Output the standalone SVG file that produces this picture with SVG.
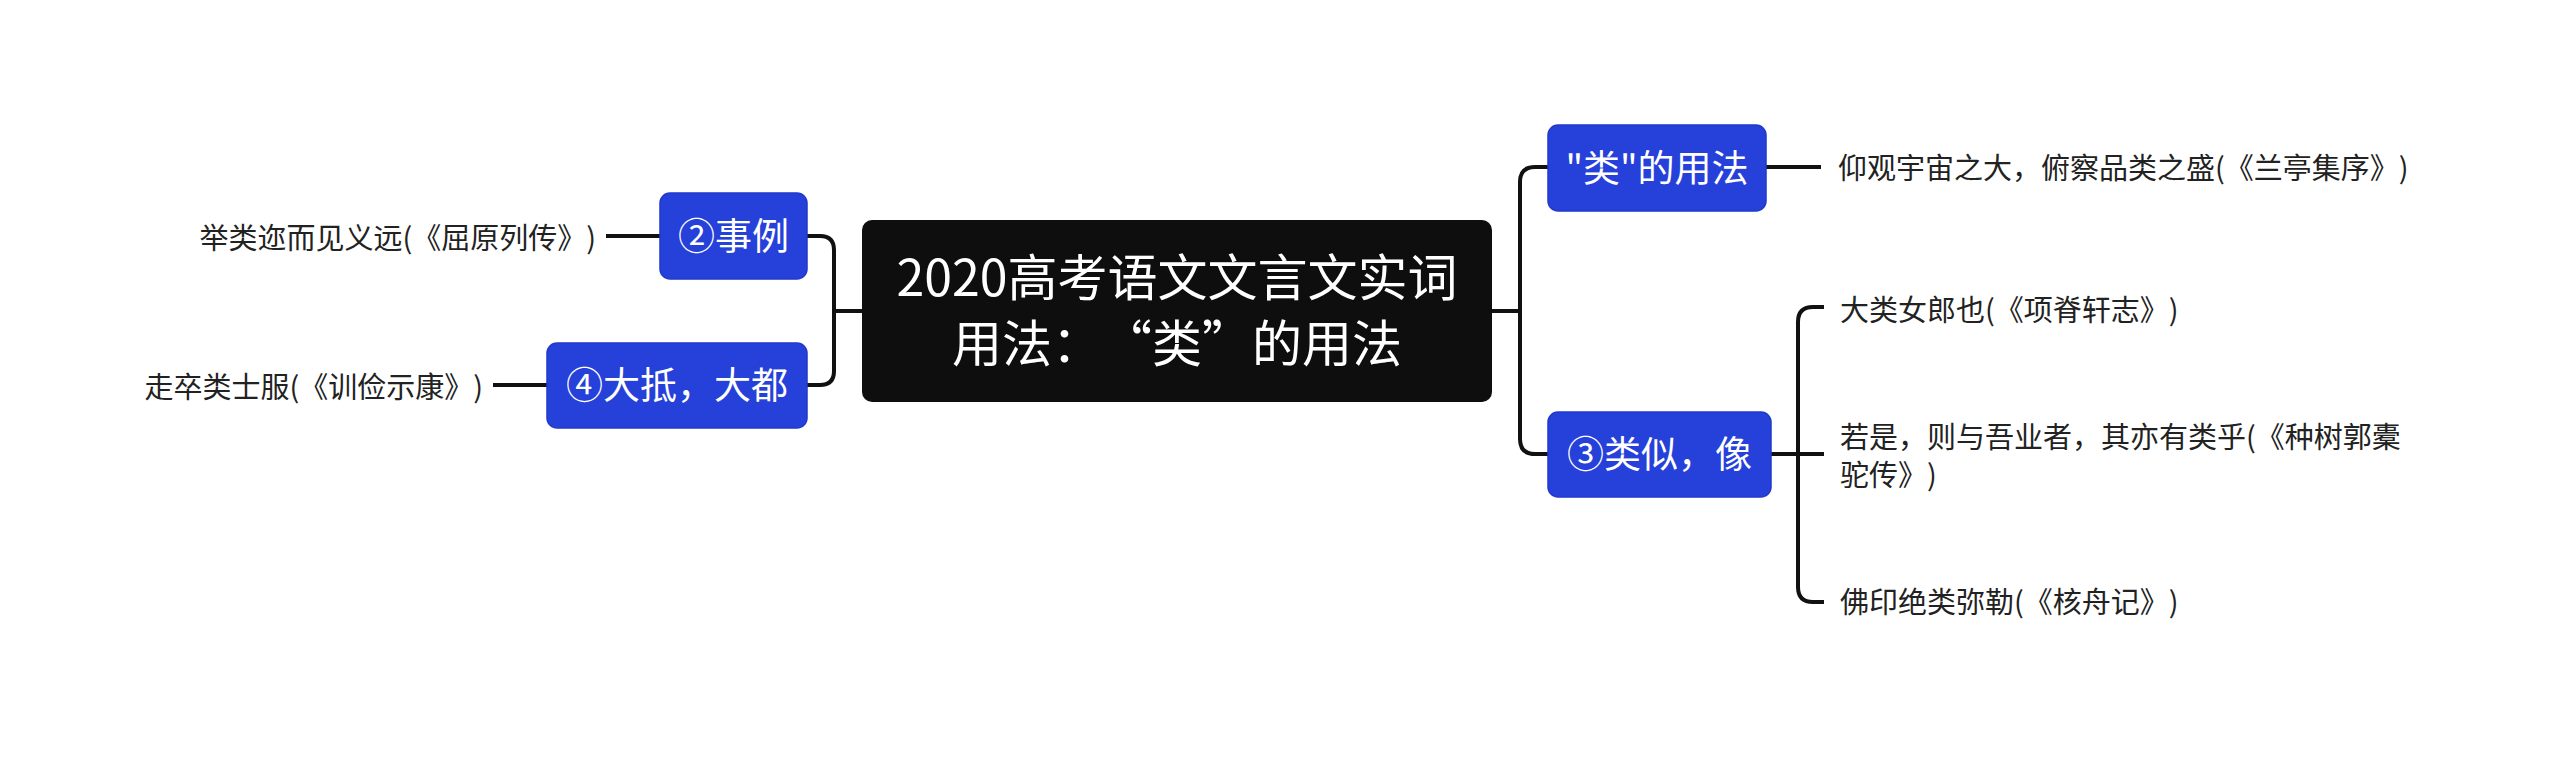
<svg xmlns="http://www.w3.org/2000/svg" width="2560" height="760" viewBox="0 0 2560 760">
<style>
.root{fill:#0e0e0e}
.blue{fill:#2640da;stroke:#2038cc;stroke-width:1.5}
.t{font-family:"Noto Sans CJK SC","Noto Sans",sans-serif;text-spacing-trim:space-all;font-feature-settings:"chws" 0,"halt" 0,"palt" 0}
.rt{font-size:50px;fill:#ffffff;text-anchor:middle}
.bt{font-size:37px;fill:#ffffff;text-anchor:middle}
.lt{font-size:29px;fill:#222222}
.c{fill:none;stroke:#111111;stroke-width:4;stroke-linecap:butt}
</style>
<rect width="2560" height="760" fill="#ffffff"/>
<g id="connectors">
<path class="c" d="M862,311 H834"/>
<path class="c" d="M807,236 H820 Q834,236 834,250 V371 Q834,385 820,385 H807"/>
<path class="c" d="M606,236 H660"/>
<path class="c" d="M493,385 H547"/>
<path class="c" d="M1492,311 H1520"/>
<path class="c" d="M1548,167 H1535 Q1520,167 1520,182 V439 Q1520,454 1535,454 H1548"/>
<path class="c" d="M1766,167 H1821"/>
<path class="c" d="M1771,454 H1824"/>
<path class="c" d="M1824,307 H1813 Q1798,307 1798,322 V587 Q1798,602 1813,602 H1824"/>
</g>
<g id="root">
<rect class="root" x="862" y="220" width="630" height="182" rx="10"/>
<text class="t rt" x="1177" y="296">2020高考语文文言文实词</text>
<text class="t rt" x="1177" y="362">用法：“类”的用法</text>
</g>
<g id="n2">
<rect class="blue" x="660" y="193" width="147" height="86" rx="10"/>
<text class="t bt" x="733.5" y="250">②事例</text>
</g>
<g id="n4">
<rect class="blue" x="547" y="343" width="260" height="85" rx="10"/>
<text class="t bt" x="677" y="399">④大抵，大都</text>
</g>
<g id="n1">
<rect class="blue" x="1548" y="125" width="218" height="86" rx="10"/>
<text class="t bt" x="1657" y="182">"类"的用法</text>
</g>
<g id="n3">
<rect class="blue" x="1548" y="412" width="223" height="85" rx="10"/>
<text class="t bt" x="1659.5" y="468">③类似，像</text>
</g>
<g id="leaf-l1">
<text class="t lt" x="596" y="249" text-anchor="end">举类迩而见义远(《屈原列传》)</text>
</g>
<g id="leaf-l2">
<text class="t lt" x="483" y="398" text-anchor="end">走卒类士服(《训俭示康》)</text>
</g>
<g id="leaf-r1">
<text class="t lt" x="1838" y="179">仰观宇宙之大，俯察品类之盛(《兰亭集序》)</text>
</g>
<g id="leaf-r2">
<text class="t lt" x="1840" y="321">大类女郎也(《项脊轩志》)</text>
</g>
<g id="leaf-r3">
<text class="t lt" x="1840" y="448">若是，则与吾业者，其亦有类乎(《种树郭橐</text>
<text class="t lt" x="1840" y="486">驼传》)</text>
</g>
<g id="leaf-r4">
<text class="t lt" x="1840" y="613">佛印绝类弥勒(《核舟记》)</text>
</g>
</svg>
